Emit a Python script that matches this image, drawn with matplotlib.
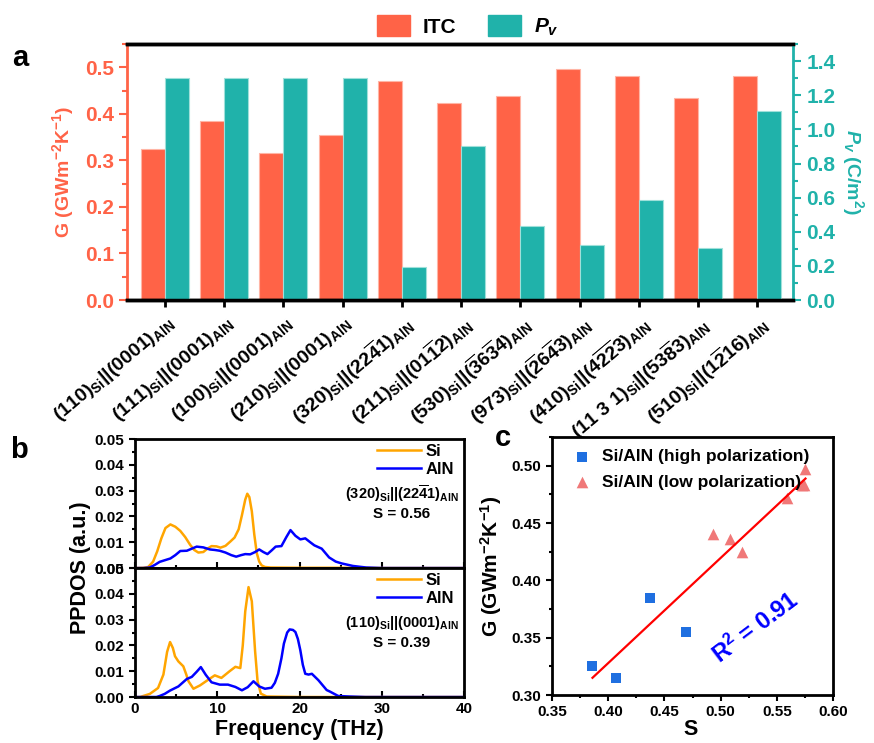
import matplotlib.pyplot as plt
import numpy as np
from matplotlib.patches import Patch
from matplotlib.ticker import MultipleLocator

plt.rcParams['font.family'] = 'Liberation Sans'
plt.rcParams['font.weight'] = 'bold'
plt.rcParams['axes.labelweight'] = 'bold'
plt.rcParams['mathtext.fontset'] = 'custom'
plt.rcParams['mathtext.rm'] = 'Liberation Sans:bold'
plt.rcParams['mathtext.it'] = 'Liberation Sans:italic:bold'
plt.rcParams['mathtext.bf'] = 'Liberation Sans:bold'

# ---------------- data ----------------
interfaces = [
    r'$(110)_{\mathrm{Si}}||(0001)_{\mathrm{AlN}}$',
    r'$(111)_{\mathrm{Si}}||(0001)_{\mathrm{AlN}}$',
    r'$(100)_{\mathrm{Si}}||(0001)_{\mathrm{AlN}}$',
    r'$(210)_{\mathrm{Si}}||(0001)_{\mathrm{AlN}}$',
    r'$(320)_{\mathrm{Si}}||(22\overline{4}1)_{\mathrm{AlN}}$',
    r'$(211)_{\mathrm{Si}}||(01\overline{1}2)_{\mathrm{AlN}}$',
    r'$(530)_{\mathrm{Si}}||(\overline{3}6\overline{3}4)_{\mathrm{AlN}}$',
    r'$(973)_{\mathrm{Si}}||(\overline{2}6\overline{4}3)_{\mathrm{AlN}}$',
    r'$(410)_{\mathrm{Si}}||(4\overline{2}\overline{2}3)_{\mathrm{AlN}}$',
    r'$(11\ 3\ 1)_{\mathrm{Si}}||(53\overline{8}3)_{\mathrm{AlN}}$',
    r'$(510)_{\mathrm{Si}}||(1\overline{2}16)_{\mathrm{AlN}}$',
]
itc = [0.324, 0.384, 0.315, 0.354, 0.471, 0.424, 0.438, 0.496, 0.482, 0.435, 0.482]
pv = [1.30, 1.30, 1.30, 1.30, 0.195, 0.90, 0.435, 0.325, 0.587, 0.305, 1.11]

# PPDOS (320)Si||(22-41)AlN, S = 0.56
f_si_a = [0, 1.0, 1.6, 2.2, 2.7, 3.2, 3.7, 4.3, 4.9, 5.5, 6.1, 6.7, 7.2, 7.7, 8.3, 8.8,
          9.3, 9.9, 10.4, 11.0, 11.6, 12.1, 12.6, 13.0, 13.4, 13.65, 13.9, 14.2, 14.5,
          14.8, 15.1, 15.4, 15.8, 16.5, 20, 25, 30, 40]
v_si_a = [0, 0.0001, 0.0004, 0.0025, 0.0065, 0.0115, 0.0155, 0.0169, 0.0160, 0.0144,
          0.0120, 0.0090, 0.0070, 0.0060, 0.0062, 0.0075, 0.0085, 0.0084, 0.0079, 0.0086,
          0.0103, 0.0118, 0.0150, 0.0205, 0.0265, 0.0288, 0.0275, 0.0220, 0.0130,
          0.0058, 0.0025, 0.0010, 0.0004, 0.0002, 0.0001, 0.0001, 0, 0]
f_aln_a = [0, 1.0, 1.8, 2.4, 3.0, 3.6, 4.3, 4.9, 5.5, 6.3, 6.9, 7.5, 8.3, 9.1, 9.7, 10.3,
           11.0, 11.7, 12.3, 12.9, 13.4, 14.0, 14.6, 15.1, 15.6, 16.1, 16.6, 17.1, 17.8,
           18.4, 18.9, 19.5, 20.1, 20.7, 21.3, 21.8, 22.7, 23.6, 24.4, 25.1, 26.5, 28.1,
           30, 40]
v_aln_a = [0, 0, 0.0002, 0.0012, 0.0024, 0.0030, 0.0037, 0.0050, 0.0066, 0.0067, 0.0075,
           0.0083, 0.0080, 0.0072, 0.0070, 0.0067, 0.0060, 0.0050, 0.0044, 0.0050, 0.0054,
           0.0053, 0.0062, 0.0072, 0.0062, 0.0054, 0.0068, 0.0083, 0.0085, 0.0120, 0.0147,
           0.0125, 0.0111, 0.0115, 0.0100, 0.0088, 0.0075, 0.0041, 0.0025, 0.0018, 0.0008,
           0.0002, 0, 0]

# PPDOS (110)Si||(0001)AlN, S = 0.39
f_si_b = [0, 0.6, 1.8, 2.8, 3.45, 3.9, 4.26, 4.6, 4.86, 5.27, 5.87, 6.2, 6.5, 7.1, 7.9,
          8.9, 9.7, 10.5, 11.5, 12.2, 12.8, 13.1, 13.4, 13.8, 14.2, 14.6, 14.9, 15.3,
          16.0, 20, 30, 40]
v_si_b = [0, 0, 0.0012, 0.0035, 0.0087, 0.0175, 0.0213, 0.0190, 0.0158, 0.0138, 0.0119,
          0.0090, 0.0061, 0.0032, 0.0045, 0.0067, 0.0084, 0.0074, 0.0100, 0.0117, 0.0112,
          0.0200, 0.0332, 0.0426, 0.0371, 0.0177, 0.0061, 0.0013, 0.0002, 0, 0, 0]
f_aln_b = [0, 2.6, 3.0, 3.6, 4.26, 5.27, 6.3, 6.9, 7.5, 8.0, 8.6, 9.3, 10.3, 11.3, 12.2,
           13.0, 13.7, 14.4, 15.1, 15.8, 16.6, 17.0, 17.4, 17.8, 18.1, 18.5, 18.8, 19.2,
           19.5, 19.8, 20.1, 20.4, 20.7, 21.1, 21.5, 22.3, 23.3, 23.7, 24.7, 26.0, 28.0,
           40]
v_aln_b = [0, 0, 0.0004, 0.0012, 0.0025, 0.0041, 0.0070, 0.0078, 0.0098, 0.0116, 0.0086,
           0.0057, 0.0048, 0.0048, 0.0039, 0.0026, 0.0038, 0.0061, 0.0041, 0.0032, 0.0036,
           0.0055, 0.0090, 0.0150, 0.0207, 0.0250, 0.0262, 0.0260, 0.0252, 0.0225, 0.0181,
           0.0125, 0.0090, 0.0087, 0.0090, 0.0065, 0.0027, 0.0021, 0.0004, 0.0002, 0, 0]

# G vs S
s_high = [0.386, 0.4065, 0.4376, 0.4695]
g_high = [0.325, 0.315, 0.385, 0.355]
s_low = [0.4935, 0.5086, 0.5186, 0.5595, 0.572, 0.574, 0.5755]
g_low = [0.440, 0.436, 0.425, 0.472, 0.483, 0.483, 0.497]

c_itc = '#FF6347'
c_pv = '#20B2AA'

fig = plt.figure(figsize=(8.74, 7.43), dpi=100)

# ---------------- panel a ----------------
ax1 = fig.add_axes([0.1453, 0.5962, 0.762, 0.3445])
ax2 = ax1.twinx()
x = np.arange(len(interfaces))
w = 0.405
ax1.bar(x - w / 2, itc, w, color=c_itc, edgecolor='#FFB5A5', linewidth=0.8)
ax2.bar(x + w / 2, pv, w, color=c_pv, edgecolor='#9FE0DA', linewidth=0.8)
ax1.set_xlim(-0.64, 10.6)
ax1.set_ylim(0, 0.55)
ax2.set_ylim(0, 1.5)
ax1.set_xticks(x)
ax1.set_xticklabels(interfaces, rotation=40, ha='right', va='top',
                    rotation_mode='anchor', fontsize=14)
ax1.yaxis.set_major_locator(MultipleLocator(0.1))
ax1.yaxis.set_minor_locator(MultipleLocator(0.05))
ax2.yaxis.set_major_locator(MultipleLocator(0.2))
ax2.yaxis.set_minor_locator(MultipleLocator(0.1))
for a in (ax1, ax2):
    for side in ('top', 'bottom'):
        a.spines[side].set_linewidth(2.5)
        a.spines[side].set_color('black')
ax1.spines['left'].set_color(c_itc)
ax1.spines['left'].set_linewidth(2)
ax1.spines['right'].set_visible(False)
ax2.spines['left'].set_visible(False)
ax2.spines['right'].set_color(c_pv)
ax2.spines['right'].set_linewidth(2)
ax1.tick_params(axis='x', direction='out', length=5, width=2, pad=4)
ax1.tick_params(axis='y', which='both', colors=c_itc, width=1.5, labelsize=15)
ax1.tick_params(axis='y', which='major', length=6)
ax1.tick_params(axis='y', which='minor', length=3.5)
ax2.tick_params(axis='y', which='both', colors=c_pv, width=1.5, labelsize=15)
ax2.tick_params(axis='y', which='major', length=6)
ax2.tick_params(axis='y', which='minor', length=3.5)
ax1.set_ylabel(r'G (GWm$^{-2}$K$^{-1}$)', color=c_itc, fontsize=14, labelpad=6)
ax2.set_ylabel(r'$P_v$ (C/m$^2$)', color=c_pv, fontsize=14, rotation=270, labelpad=22)
handles = [Patch(color=c_itc, label='ITC'), Patch(color=c_pv, label=r'$P_v$')]
fig.legend(handles=handles, loc='upper center', bbox_to_anchor=(0.535, 1.005), ncol=2,
           frameon=False, fontsize=15, handlelength=1.6, handleheight=1.2,
           columnspacing=1.5, handletextpad=0.6)

# ---------------- panel b ----------------
axb1 = fig.add_axes([0.1545, 0.2355, 0.3764, 0.1736])
axb2 = fig.add_axes([0.1545, 0.0619, 0.3764, 0.1736], sharex=axb1)
blocks = [
    (axb1, f_si_a, v_si_a, f_aln_a, v_aln_a,
     r'$(320)_{\mathrm{Si}}||(22\overline{4}1)_{\mathrm{AlN}}$', 'S = 0.56'),
    (axb2, f_si_b, v_si_b, f_aln_b, v_aln_b,
     r'$(110)_{\mathrm{Si}}||(0001)_{\mathrm{AlN}}$', 'S = 0.39'),
]
for a, fs, vs, fa, va, lab, stext in blocks:
    a.plot(fs, vs, color='#FFA500', lw=1.8, label='Si')
    a.plot(fa, va, color='#0000FF', lw=1.8, label='AlN')
    a.set_xlim(0, 40)
    a.set_ylim(0, 0.05)
    a.yaxis.set_major_locator(MultipleLocator(0.01))
    a.yaxis.set_minor_locator(MultipleLocator(0.005))
    a.xaxis.set_major_locator(MultipleLocator(10))
    a.xaxis.set_minor_locator(MultipleLocator(5))
    a.yaxis.set_major_formatter(plt.FormatStrFormatter('%.2f'))
    for sp in a.spines.values():
        sp.set_linewidth(2)
    a.tick_params(axis='y', which='both', direction='out', width=1.5, labelsize=11)
    a.tick_params(axis='y', which='major', length=4)
    a.tick_params(axis='y', which='minor', length=2.5)
    a.tick_params(axis='x', which='both', direction='in', width=1.5, labelsize=11)
    a.tick_params(axis='x', which='major', length=4)
    a.tick_params(axis='x', which='minor', length=2.5)
    a.legend(loc='upper right', bbox_to_anchor=(1.0, 1.04), frameon=False,
             fontsize=12, handlelength=2.6, handletextpad=0.3, labelspacing=0.2,
             borderaxespad=0.2)
    a.text(0.81, 0.575, lab, transform=a.transAxes, ha='center', va='center',
           fontsize=10.5)
    a.text(0.81, 0.42, stext, transform=a.transAxes, ha='center', va='center',
           fontsize=11)
axb1.tick_params(axis='x', labelbottom=False)
fig.text(0.092, 0.2355, 'PPDOS (a.u.)', rotation=90, ha='center', va='center',
         fontsize=15.5)
fig.text(0.343, 0.018, 'Frequency (THz)', ha='center', va='center', fontsize=15.5)

# ---------------- panel c ----------------
axc = fig.add_axes([0.6316, 0.0646, 0.3215, 0.3472])
axc.scatter(s_high, g_high, marker='s', s=55, color='#1F6FE0', linewidths=0,
            label='Si/AlN (high polarization)')
axc.scatter(s_low, g_low, marker='^', s=70, color='#F07878', linewidths=0,
            label='Si/AlN (low polarization)')
s_all = np.array(s_high + s_low)
g_all = np.array(g_high + g_low)
k, b0 = np.polyfit(s_all, g_all, 1)
s_fit = np.linspace(s_all.min(), s_all.max(), 50)
axc.plot(s_fit, k * s_fit + b0, color='#FF0000', lw=1.6)
axc.set_xlim(0.35, 0.60)
axc.set_ylim(0.30, 0.525)
axc.xaxis.set_major_locator(MultipleLocator(0.05))
axc.xaxis.set_minor_locator(MultipleLocator(0.025))
axc.yaxis.set_major_locator(MultipleLocator(0.05))
axc.yaxis.set_minor_locator(MultipleLocator(0.025))
axc.xaxis.set_major_formatter(plt.FormatStrFormatter('%.2f'))
axc.yaxis.set_major_formatter(plt.FormatStrFormatter('%.2f'))
for sp in axc.spines.values():
    sp.set_linewidth(2)
axc.tick_params(which='both', direction='out', width=1.5, labelsize=11)
axc.tick_params(which='major', length=4)
axc.tick_params(which='minor', length=2.5)
axc.set_ylabel(r'G (GWm$^{-2}$K$^{-1}$)', fontsize=15, labelpad=6)
axc.legend(loc='upper left', frameon=False, fontsize=12.5, handletextpad=0.2,
           borderaxespad=0.3, labelspacing=0.6, bbox_to_anchor=(0.0, 1.0))
axc.text(0.531, 0.359, r'R$^2$ = 0.91', color='#0000FF', fontsize=17, rotation=37,
         ha='center', va='center')
fig.text(0.79, 0.018, 'S', ha='center', va='center', fontsize=15.5)

fig.text(0.023, 0.922, 'a', fontsize=21, ha='center', va='center')
fig.text(0.022, 0.394, 'b', fontsize=21, ha='center', va='center')
fig.text(0.576, 0.41, 'c', fontsize=21, ha='center', va='center')

fig.savefig('out.png', dpi=100)
